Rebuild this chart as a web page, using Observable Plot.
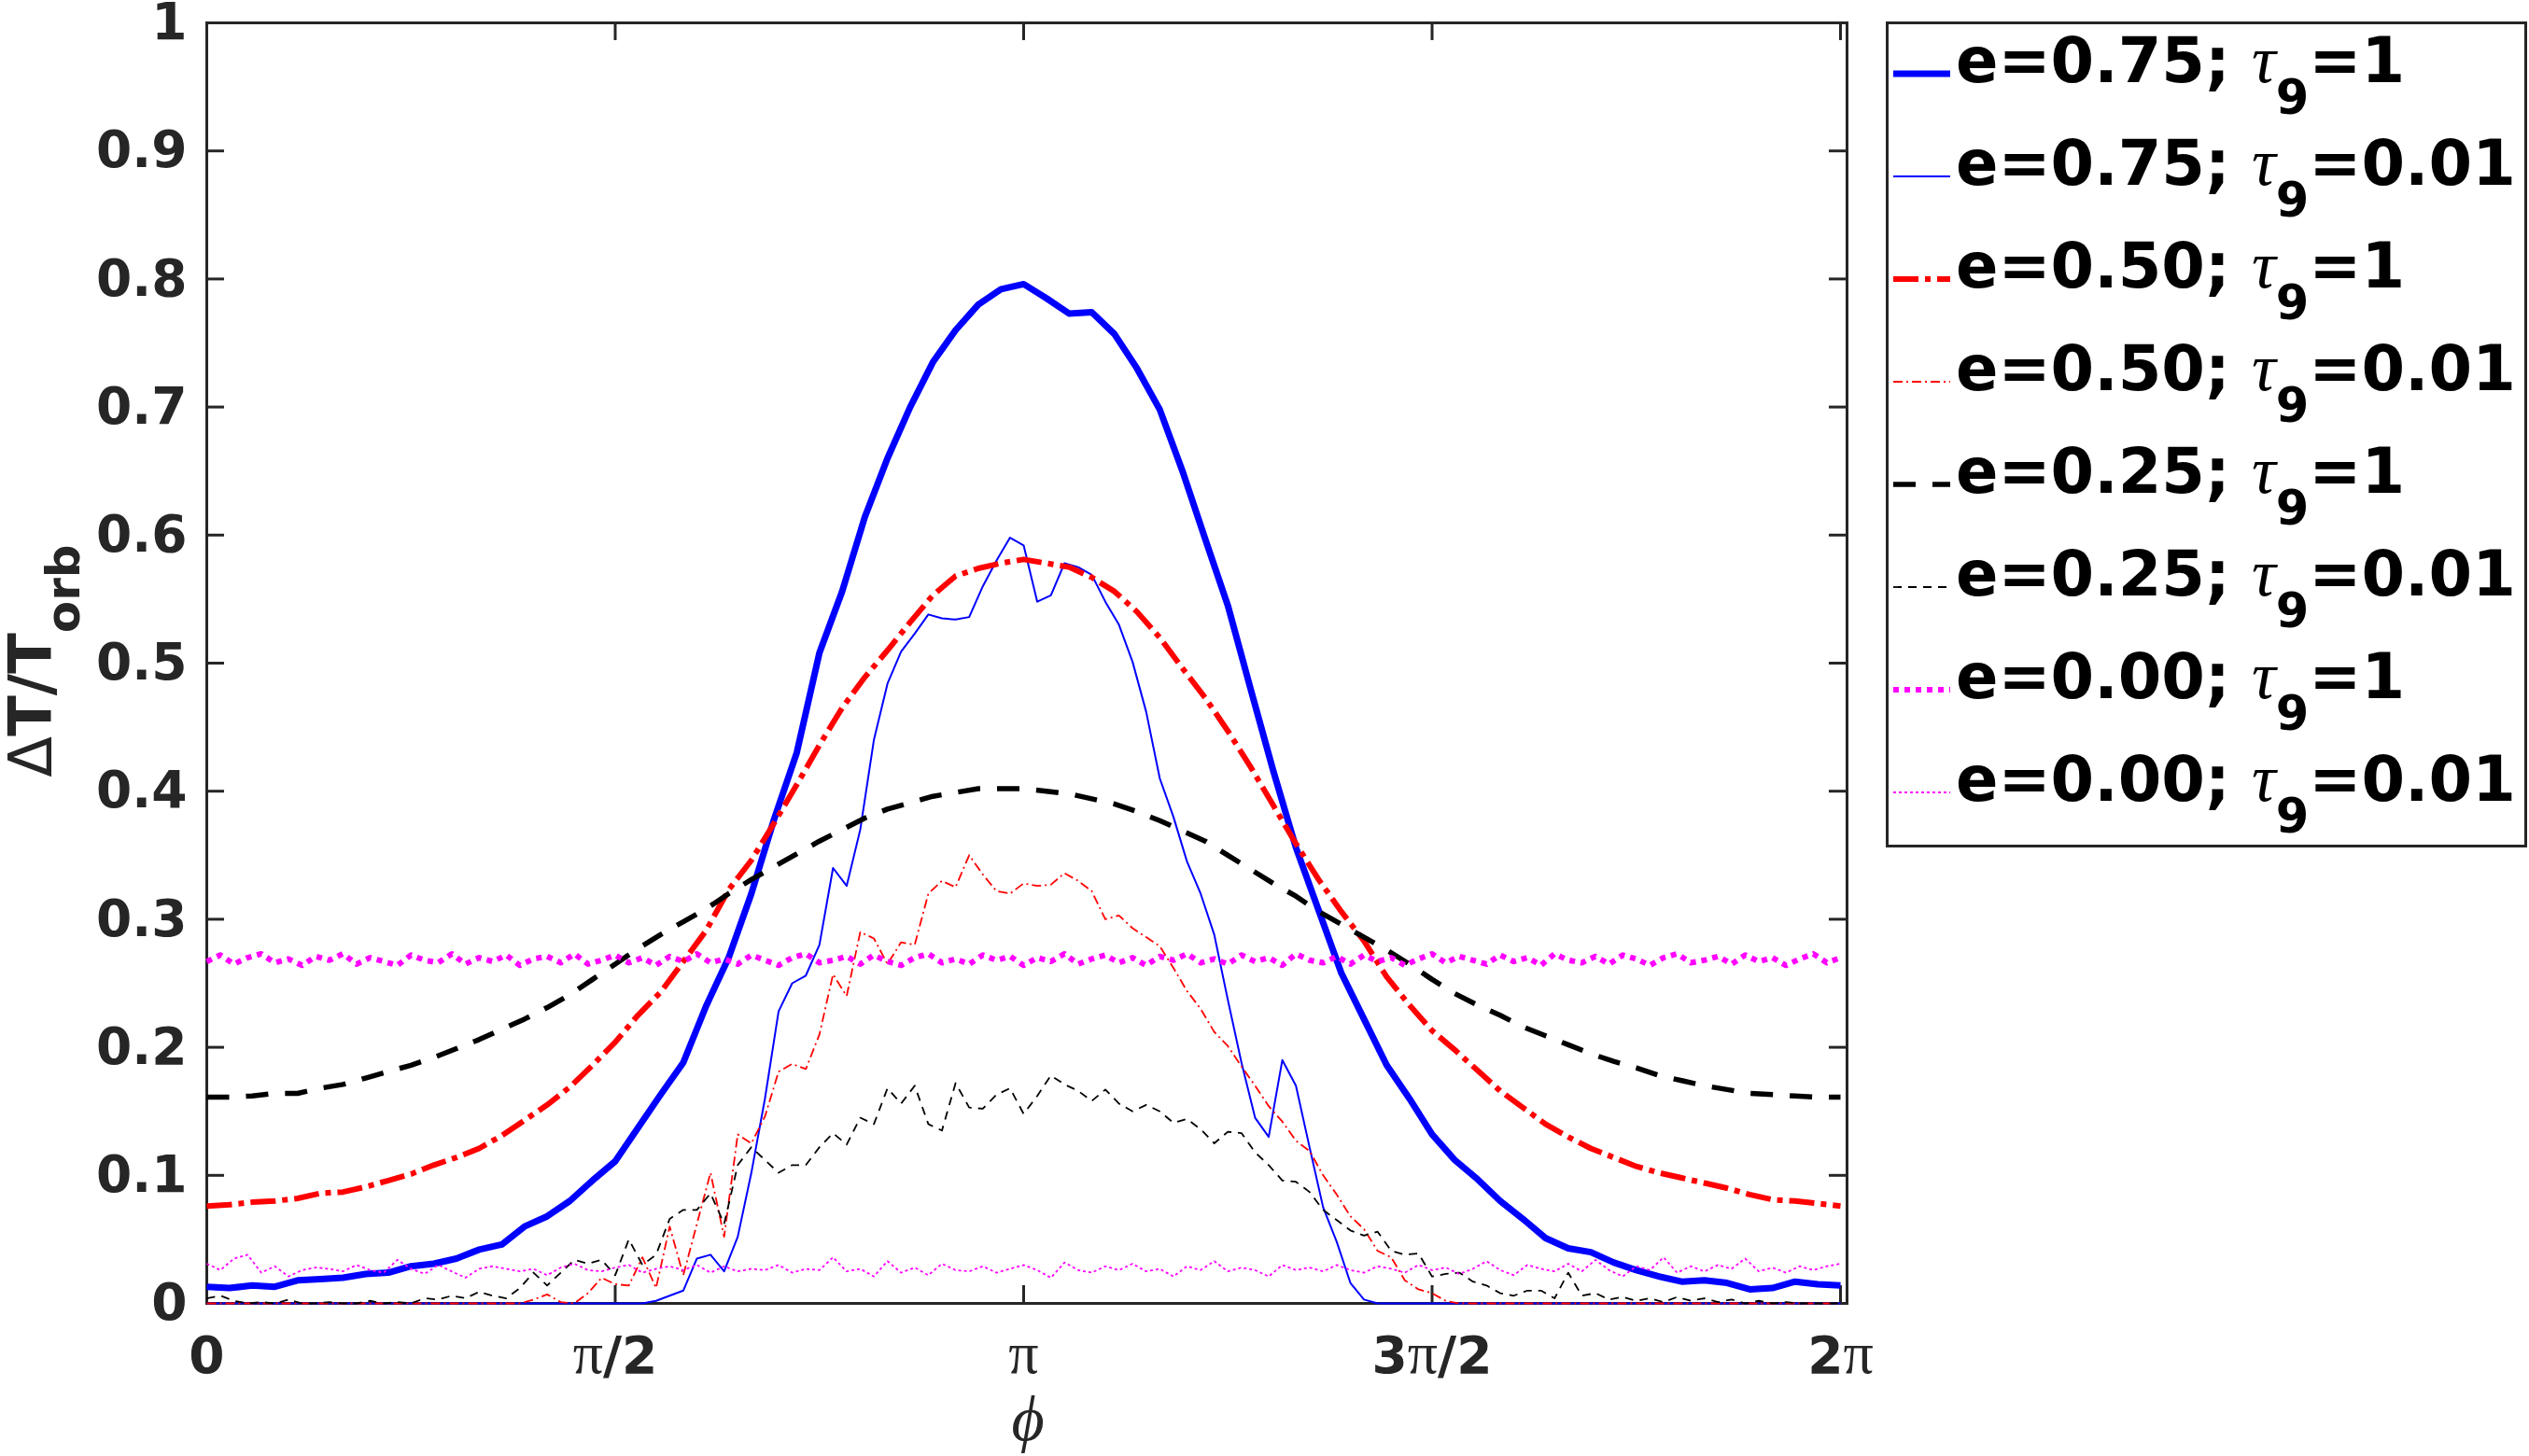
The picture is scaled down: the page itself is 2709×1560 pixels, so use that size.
<!DOCTYPE html>
<html><head><meta charset="utf-8">
<script src="https://cdn.jsdelivr.net/npm/d3@7"></script>
<script src="https://cdn.jsdelivr.net/npm/@observablehq/plot@0.6"></script>
<style>
html,body{margin:0;padding:0;background:#fff;}
#wrap{position:relative;width:2709px;height:1560px;overflow:hidden;background:#fff;}
</style></head><body><div id="wrap"></div>
<script>
// ---- tick labels ----
const xTickValues = [0, Math.PI / 2, Math.PI, 3 * Math.PI / 2, 2 * Math.PI];
const xTickLabels = ["0", "π/2", "π", "3π/2", "2π"];
const yTickValues = [0, 0.1, 0.2, 0.3, 0.4, 0.5, 0.6, 0.7, 0.8, 0.9, 1];
const yTickLabels = ["0", "0.1", "0.2", "0.3", "0.4", "0.5", "0.6", "0.7", "0.8", "0.9", "1"];

// ---- legend labels ----
const legendE = ["0.75", "0.75", "0.50", "0.50", "0.25", "0.25", "0.00", "0.00"];
const legendTau = ["1", "0.01", "1", "0.01", "1", "0.01", "1", "0.01"];

// ---- series values, phi from 0 to 2π on an even grid (thick: 5°, thin: 3°) ----
const e075_tau1 = [0.013,0.012,0.014,0.013,0.018,0.019,0.020,0.023,0.024,0.029,0.031,0.035,0.042,0.046,0.060,0.068,0.080,0.096,0.111,0.137,0.163,0.188,0.232,0.270,0.320,0.378,0.430,0.508,0.556,0.614,0.660,0.700,0.735,0.760,0.780,0.792,0.796,0.785,0.773,0.774,0.757,0.730,0.698,0.650,0.597,0.545,0.480,0.416,0.356,0.307,0.258,0.222,0.186,0.160,0.132,0.112,0.097,0.080,0.066,0.051,0.043,0.040,0.032,0.026,0.021,0.017,0.018,0.016,0.011,0.012,0.017,0.015,0.014];

const e075_tau001 = [0,0,0,0,0,0,0,0,0,0,0,0,0,0,0,0,0,0,0,0,0,0,0,0,0,0,0,0,0,0,0,0,
 0.000,0.002,0.006,0.010,0.035,0.038,0.025,0.052,0.102,0.160,0.228,0.250,0.256,0.280,0.340,0.326,0.370,0.440,0.484,0.509,0.523,0.538,0.535,0.534,0.536,0.560,0.580,0.598,0.592,0.548,0.553,0.578,0.575,0.569,0.548,0.530,0.501,0.462,0.410,0.380,0.345,0.320,0.288,0.237,0.188,0.145,0.130,0.190,0.170,0.122,0.075,0.048,0.016,0.003,
 0,0,0,0,0,0,0,0,0,0,0,0,0,0,0,0,0,0,0,0,0,0,0,0,0,0,0,0,0,0,0,0,0,0,0];

const e050_tau1 = [0.076,0.077,0.079,0.080,0.082,0.086,0.087,0.091,0.096,0.101,0.108,0.114,0.121,0.131,0.143,0.155,0.169,0.186,0.204,0.225,0.243,0.267,0.291,0.323,0.346,0.375,0.405,0.436,0.465,0.489,0.510,0.532,0.553,0.568,0.574,0.578,0.581,0.578,0.575,0.567,0.556,0.540,0.520,0.496,0.473,0.447,0.419,0.389,0.359,0.331,0.306,0.283,0.255,0.233,0.213,0.198,0.182,0.166,0.153,0.140,0.130,0.121,0.114,0.107,0.102,0.098,0.094,0.090,0.085,0.081,0.080,0.078,0.076];

const e050_tau001 = [0,0,0,0,0,0,0,0,0,0,0,0,0,0,0,0,0,0,0,0,0,0,0,
 0.000,0.003,0.007,0.001,0.000,0.008,0.020,0.015,0.014,0.036,0.012,0.060,0.022,0.062,0.102,0.052,0.132,0.125,0.146,0.181,0.187,0.183,0.210,0.257,0.240,0.290,0.285,0.265,0.282,0.280,0.320,0.330,0.325,0.350,0.335,0.322,0.320,0.328,0.326,0.327,0.336,0.330,0.322,0.300,0.303,0.293,0.286,0.279,0.262,0.244,0.230,0.212,0.201,0.185,0.170,0.154,0.142,0.127,0.119,0.100,0.085,0.068,0.058,0.041,0.036,0.018,0.011,0.008,0.002,
 0,0,0,0,0,0,0,0,0,0,0,0,0,0,0,0,0,0,0,0,0,0,0,0,0,0,0,0,0];

const e025_tau1 = [0.161,0.161,0.162,0.164,0.164,0.168,0.171,0.176,0.181,0.186,0.192,0.199,0.206,0.214,0.222,0.231,0.241,0.253,0.265,0.277,0.288,0.298,0.308,0.320,0.331,0.341,0.351,0.361,0.370,0.379,0.386,0.391,0.396,0.399,0.402,0.402,0.402,0.400,0.398,0.394,0.390,0.384,0.377,0.369,0.361,0.350,0.339,0.328,0.318,0.306,0.296,0.286,0.276,0.265,0.253,0.242,0.233,0.225,0.216,0.209,0.202,0.195,0.189,0.184,0.178,0.174,0.170,0.167,0.164,0.163,0.162,0.161,0.161];

const e025_tau001 = [0.004,0.006,0.002,0.000,0.001,0.000,0.003,0.000,0.000,0.001,0.000,0.000,0.002,0.000,0.001,0.000,0.004,0.003,0.006,0.004,0.009,0.006,0.004,0.012,0.024,0.014,0.024,0.034,0.031,0.034,0.022,0.050,0.030,0.038,0.066,0.073,0.073,0.086,0.062,0.108,0.122,0.112,0.102,0.108,0.108,0.122,0.133,0.124,0.145,0.140,0.168,0.156,0.170,0.140,0.135,0.172,0.153,0.152,0.163,0.168,0.148,0.162,0.178,0.171,0.166,0.158,0.167,0.156,0.150,0.155,0.150,0.141,0.144,0.136,0.125,0.134,0.133,0.118,0.108,0.096,0.095,0.087,0.073,0.065,0.057,0.053,0.056,0.041,0.038,0.039,0.021,0.023,0.024,0.017,0.014,0.008,0.006,0.010,0.010,0.004,0.024,0.006,0.008,0.003,0.005,0.002,0.004,0.001,0.005,0.002,0.004,0.001,0.003,0.000,0.002,0.000,0.001,0.000,0.000,0.000,0.000];

const e000_tau1 = [0.267,0.272,0.265,0.270,0.273,0.266,0.269,0.264,0.271,0.268,0.273,0.265,0.270,0.267,0.264,0.272,0.268,0.266,0.273,0.265,0.270,0.267,0.272,0.264,0.269,0.271,0.266,0.273,0.265,0.268,0.272,0.266,0.270,0.264,0.271,0.267,0.273,0.266,0.269,0.265,0.272,0.268,0.264,0.270,0.273,0.266,0.268,0.271,0.265,0.272,0.267,0.264,0.270,0.273,0.266,0.269,0.265,0.272,0.268,0.271,0.264,0.270,0.267,0.273,0.265,0.269,0.272,0.266,0.270,0.264,0.271,0.268,0.273,0.266,0.269,0.265,0.272,0.267,0.270,0.264,0.273,0.268,0.266,0.271,0.265,0.272,0.267,0.270,0.264,0.269,0.273,0.266,0.271,0.268,0.265,0.272,0.267,0.270,0.264,0.273,0.268,0.266,0.271,0.265,0.272,0.269,0.264,0.270,0.273,0.266,0.268,0.271,0.265,0.272,0.267,0.270,0.264,0.269,0.273,0.266,0.270];

const e000_tau001 = [0.031,0.026,0.035,0.038,0.024,0.029,0.021,0.026,0.028,0.027,0.025,0.030,0.026,0.024,0.034,0.027,0.023,0.030,0.025,0.020,0.027,0.029,0.027,0.025,0.027,0.022,0.028,0.031,0.026,0.025,0.028,0.030,0.024,0.027,0.029,0.026,0.030,0.024,0.029,0.025,0.027,0.026,0.030,0.024,0.027,0.026,0.036,0.025,0.027,0.021,0.033,0.024,0.028,0.022,0.031,0.026,0.025,0.029,0.024,0.027,0.030,0.026,0.020,0.032,0.026,0.024,0.029,0.026,0.031,0.025,0.027,0.021,0.029,0.026,0.033,0.025,0.028,0.026,0.021,0.030,0.026,0.028,0.025,0.030,0.026,0.024,0.029,0.027,0.024,0.030,0.026,0.028,0.023,0.027,0.033,0.026,0.022,0.030,0.027,0.025,0.031,0.025,0.034,0.026,0.021,0.029,0.026,0.036,0.024,0.029,0.025,0.030,0.027,0.035,0.025,0.028,0.024,0.029,0.026,0.029,0.031];

const seriesValues = [e075_tau1, e075_tau001, e050_tau1, e050_tau001, e025_tau1, e025_tau001, e000_tau1, e000_tau001];

// ---- styles ----
const seriesColors = ["#0000ff", "#0000ff", "#ff0000", "#ff0000", "#000000", "#000000", "#ff00ff", "#ff00ff"];
const seriesWidths = [7, 2, 6, 1.8, 5.5, 1.8, 6, 1.8];
const seriesDash = [null, null, "27 7 6 7", "10 4 2 4", "24 18", "9 7", "6 6", "3 3"];
const axisColor = "#262626";

const W = 2709, H = 1560;
const mL = 221, mR = W - 1978, mT = 24, mB = H - 1396;
const xMax = 2 * Math.PI * 1757 / 1750;
const tickLenX = 19 / (W - mL - mR) * xMax;
const tickLenY = 19 / (H - mT - mB);

const tables = seriesValues.map((vals, s) =>
  vals.map((v, i) => ({phi: 2 * Math.PI * i / (vals.length - 1), v, s})));

const lineMarks = tables.map((t, s) => Plot.line(t, {
  x: "phi", y: "v",
  stroke: seriesColors[s], strokeWidth: seriesWidths[s],
  strokeDasharray: seriesDash[s] || undefined,
  strokeLinecap: "butt", strokeLinejoin: "round"
}));

const svg = Plot.plot({
  width: W, height: H,
  marginLeft: mL, marginRight: mR, marginTop: mT, marginBottom: mB,
  style: {fontFamily: "DejaVu Sans", color: axisColor, background: "white", overflow: "visible"},
  x: {domain: [0, xMax]},
  y: {domain: [0, 1]},
  marks: [
    Plot.frame({stroke: axisColor, strokeWidth: 3}),
    Plot.ruleX(xTickValues, {x: d => d, y1: 0, y2: tickLenY, stroke: axisColor, strokeWidth: 3}),
    Plot.ruleX(xTickValues, {x: d => d, y1: 1, y2: 1 - tickLenY, stroke: axisColor, strokeWidth: 3}),
    Plot.ruleY(yTickValues, {y: d => d, x1: 0, x2: tickLenX, stroke: axisColor, strokeWidth: 3}),
    Plot.ruleY(yTickValues, {y: d => d, x1: xMax, x2: xMax - tickLenX, stroke: axisColor, strokeWidth: 3}),
    Plot.axisX({ticks: xTickValues, tickFormat: d => xTickLabels[xTickValues.indexOf(d)], tickSize: 0, tickPadding: 35, label: null, fontSize: 55, fontWeight: "bold"}),
    Plot.axisY({ticks: yTickValues, tickFormat: d => yTickLabels[yTickValues.indexOf(d)], tickSize: 0, tickPadding: 21, label: null, fontSize: 55, fontWeight: "bold"}),
    ...lineMarks
  ]
});
document.getElementById("wrap").appendChild(svg);

const S = d3.select(svg);
S.selectAll('g[aria-label="y-axis tick label"]').attr("font-size", 55).attr("font-weight", "bold").attr("fill", axisColor);
S.selectAll('g[aria-label="x-axis tick label"]').attr("font-size", 55).attr("font-weight", "bold").attr("fill", axisColor);
S.selectAll('g[aria-label="x-axis tick label"] text').each(function () {
  const t = d3.select(this);
  const s = t.text();
  t.text("");
  for (const part of s.split(/(π)/)) {
    if (!part) continue;
    const ts = t.append("tspan").text(part);
    if (part === "π") ts.attr("font-family", "Liberation Serif").attr("font-weight", "normal").attr("font-size", 64);
  }
});

// y-axis label
const yl = S.append("text")
  .attr("transform", "translate(55,708) rotate(-90)")
  .attr("text-anchor", "middle").attr("fill", axisColor)
  .attr("font-family", "DejaVu Sans").attr("font-size", 64).attr("font-weight", "bold");
yl.append("tspan").attr("font-weight", "normal").text("Δ");
yl.append("tspan").text("T/T");
yl.append("tspan").attr("font-size", 50).attr("dy", 30).text("orb");

// x-axis label
S.append("text").attr("x", 1101).attr("y", 1543).attr("text-anchor", "middle")
  .attr("fill", axisColor).attr("font-family", "Liberation Serif").attr("font-style", "italic")
  .attr("font-size", 68).text("ϕ");

// legend
const leg = d3.select("#wrap").append("svg")
  .attr("width", 688).attr("height", 886)
  .style("position", "absolute").style("left", "2020px").style("top", "23px");
leg.append("rect").attr("x", 1.5).attr("y", 1.5).attr("width", 684).attr("height", 882)
  .attr("fill", "white").attr("stroke", axisColor).attr("stroke-width", 3);
legendE.forEach((e, i) => {
  const yLine = 56 + 110 * i, yText = 65 + 110 * i;
  leg.append("line").attr("x1", 8).attr("x2", 69).attr("y1", yLine).attr("y2", yLine)
    .attr("stroke", seriesColors[i]).attr("stroke-width", seriesWidths[i])
    .attr("stroke-dasharray", seriesDash[i]).attr("stroke-linecap", "butt");
  const t = leg.append("text").attr("x", 75).attr("y", yText).attr("fill", "#000")
    .attr("font-family", "DejaVu Sans").attr("font-size", 67).attr("font-weight", "bold");
  t.append("tspan").text(`e=${e}; `);
  t.append("tspan").attr("font-family", "Liberation Serif").attr("font-style", "italic")
    .attr("font-weight", "normal").attr("font-size", 72).text("τ");
  t.append("tspan").attr("font-size", 51).attr("dy", 34).text("9");
  t.append("tspan").attr("dy", -34).text(`=${legendTau[i]}`);
});
</script></body></html>
